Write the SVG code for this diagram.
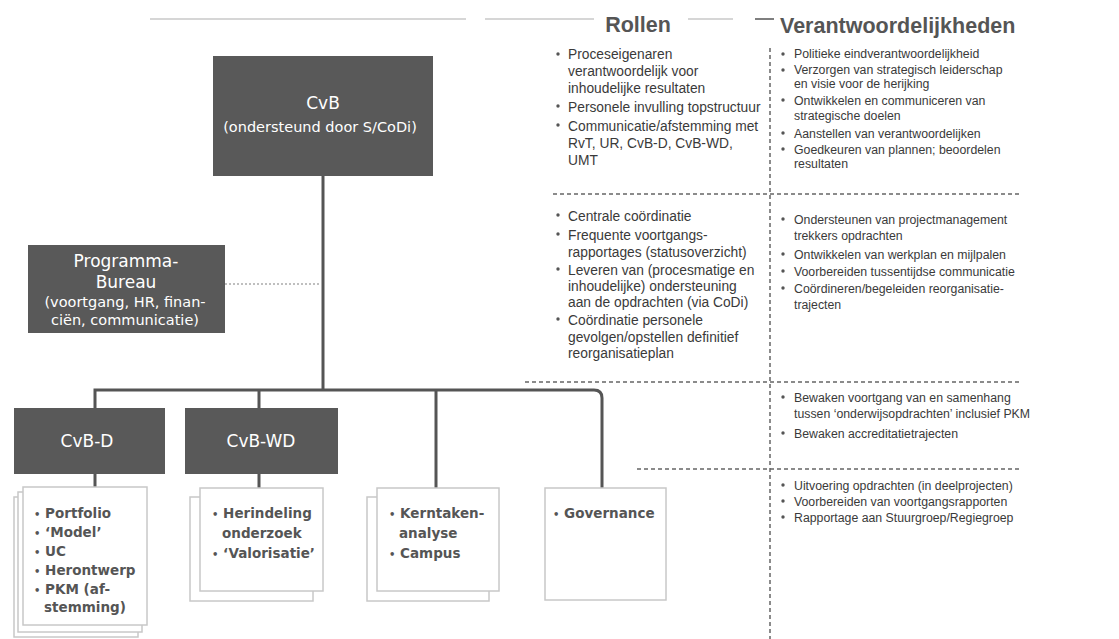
<svg xmlns="http://www.w3.org/2000/svg" width="1119" height="639" viewBox="0 0 1119 639">
<style>
.box{fill:#595959}
.wt{fill:#fff;font-family:"DejaVu Sans",Verdana,sans-serif;text-anchor:middle}
.sub{fill:#fff;stroke:#c8c8c8;stroke-width:1.5}
.st{fill:#555;font-family:"DejaVu Sans",Verdana,sans-serif;font-weight:bold;font-size:13.5px}
.b{font-size:10px}
.rt{fill:#3a3a3a;font-family:"Liberation Sans",Arial,sans-serif;font-size:13.8px}
.vt{fill:#3a3a3a;font-family:"Liberation Sans",Arial,sans-serif;font-size:12.3px}
.hd{fill:#555;font-family:"Liberation Sans",Arial,sans-serif;font-weight:bold;font-size:21.5px}
.conn{fill:none;stroke:#555;stroke-width:3}
.sep{fill:none;stroke:#666;stroke-width:1.5;stroke-dasharray:4 3}
.hl{stroke:#c8c8c8;stroke-width:1.5}
.bul{fill:#555}
</style>
<rect width="1119" height="639" fill="#fff"/>

<g id="headers">
<line class="hl" x1="150" y1="19" x2="466" y2="19"/>
<line class="hl" x1="485" y1="19" x2="594" y2="19"/>
<text class="hd" x="638" y="32" text-anchor="middle">Rollen</text>
<line class="hl" x1="688" y1="19" x2="733" y2="19"/>
<line x1="755" y1="19" x2="774" y2="19" stroke="#555" stroke-width="1.5"/>
<text class="hd" x="780" y="33">Verantwoordelijkheden</text>
</g>

<g id="separators">
<line class="sep" x1="770" y1="48" x2="770" y2="639" stroke-dasharray="3 4"/>
<line class="sep" x1="553" y1="194" x2="1020" y2="194"/>
<line class="sep" x1="525" y1="382" x2="1020" y2="382"/>
<line class="sep" x1="637" y1="469" x2="1020" y2="469" stroke="#999"/>
</g>

<g id="connectors">
<path class="conn" d="M323,176 V390"/>
<path class="conn" d="M95,408 V390 H594 Q602,390 602,398 V488"/>
<path class="conn" d="M259,408 V390"/>
<path class="conn" d="M436,390 V488"/>
<path class="conn" d="M95,474 V488"/>
<path class="conn" d="M259,474 V488"/>
<line x1="225" y1="284" x2="321" y2="284" stroke="#aaa" stroke-width="1.5" stroke-dasharray="2 2"/>
</g>

<g id="cvb">
<rect class="box" x="213" y="56" width="220" height="120"/>
<text class="wt" x="323" y="109" font-size="17">CvB</text>
<text class="wt" x="320" y="132" font-size="14.5">(ondersteund door S/CoDi)</text>
</g>

<g id="programmabureau">
<rect class="box" x="28" y="245" width="197" height="88"/>
<text class="wt" x="126" y="267" font-size="17">Programma-</text>
<text class="wt" x="126" y="288" font-size="17">Bureau</text>
<text class="wt" x="125" y="307" font-size="14.5">(voortgang, HR, finan-</text>
<text class="wt" x="125" y="325" font-size="14.5">ciën, communicatie)</text>
</g>

<g id="cvbd">
<rect class="box" x="14" y="408" width="151" height="66"/>
<text class="wt" x="87" y="447" font-size="17">CvB-D</text>
</g>

<g id="cvbwd">
<rect class="box" x="185" y="408" width="153" height="66"/>
<text class="wt" x="261" y="447" font-size="17">CvB-WD</text>
</g>

<g id="cvbd-tasks">
<rect class="sub" x="14" y="497" width="124" height="140"/>
<rect class="sub" x="18" y="492" width="124" height="140"/>
<rect class="sub" x="23" y="487" width="124" height="138"/>
<text class="st"><tspan x="34" y="518"><tspan class="b">•</tspan> Portfolio</tspan><tspan x="34" y="537"><tspan class="b">•</tspan> ‘Model’</tspan><tspan x="34" y="556"><tspan class="b">•</tspan> UC</tspan><tspan x="34" y="575"><tspan class="b">•</tspan> Herontwerp</tspan><tspan x="34" y="594"><tspan class="b">•</tspan> PKM (af-</tspan><tspan x="44" y="612">stemming)</tspan></text>
</g>

<g id="cvbwd-tasks">
<rect class="sub" x="190" y="497" width="123" height="104"/>
<rect class="sub" x="200" y="488" width="123" height="103"/>
<text class="st"><tspan x="212" y="518"><tspan class="b">•</tspan> Herindeling</tspan><tspan x="222" y="538">onderzoek</tspan><tspan x="212" y="558"><tspan class="b">•</tspan> ‘Valorisatie’</tspan></text>
</g>

<g id="campus-tasks">
<rect class="sub" x="367" y="497" width="122" height="104"/>
<rect class="sub" x="377" y="488" width="122" height="103"/>
<text class="st"><tspan x="389" y="518"><tspan class="b">•</tspan> Kerntaken-</tspan><tspan x="399" y="538">analyse</tspan><tspan x="389" y="558"><tspan class="b">•</tspan> Campus</tspan></text>
</g>

<g id="governance">
<rect class="sub" x="545" y="488" width="121" height="112"/>
<text class="st"><tspan x="553" y="518"><tspan class="b">•</tspan> Governance</tspan></text>
</g>

<g id="rollen">
<g class="bul">
<circle cx="558" cy="54" r="1.7"/><circle cx="558" cy="106" r="1.7"/><circle cx="558" cy="125" r="1.7"/>
<circle cx="558" cy="215" r="1.7"/><circle cx="558" cy="234" r="1.7"/><circle cx="558" cy="269" r="1.7"/><circle cx="558" cy="319" r="1.7"/>
</g>
<text class="rt">
<tspan x="568" y="59">Proceseigenaren</tspan>
<tspan x="568" y="76">verantwoordelijk voor</tspan>
<tspan x="568" y="93">inhoudelijke resultaten</tspan>
<tspan x="568" y="112">Personele invulling topstructuur</tspan>
<tspan x="568" y="131">Communicatie/afstemming met</tspan>
<tspan x="568" y="148">RvT, UR, CvB-D, CvB-WD,</tspan>
<tspan x="568" y="165">UMT</tspan>
<tspan x="568" y="221">Centrale coördinatie</tspan>
<tspan x="568" y="240">Frequente voortgangs-</tspan>
<tspan x="568" y="257">rapportages (statusoverzicht)</tspan>
<tspan x="568" y="275">Leveren van (procesmatige en</tspan>
<tspan x="568" y="291">inhoudelijke) ondersteuning</tspan>
<tspan x="568" y="307">aan de opdrachten (via CoDi)</tspan>
<tspan x="568" y="325">Coördinatie personele</tspan>
<tspan x="568" y="342">gevolgen/opstellen definitief</tspan>
<tspan x="568" y="358">reorganisatieplan</tspan>
</text>
</g>

<g id="verantwoordelijkheden">
<g class="bul">
<circle cx="783" cy="54" r="1.7"/><circle cx="783" cy="70" r="1.7"/><circle cx="783" cy="100" r="1.7"/><circle cx="783" cy="133" r="1.7"/><circle cx="783" cy="149" r="1.7"/>
<circle cx="783" cy="219" r="1.7"/><circle cx="783" cy="254" r="1.7"/><circle cx="783" cy="271" r="1.7"/><circle cx="783" cy="288" r="1.7"/>
<circle cx="783" cy="397" r="1.7"/><circle cx="783" cy="433" r="1.7"/>
<circle cx="783" cy="485" r="1.7"/><circle cx="783" cy="501" r="1.7"/><circle cx="783" cy="517" r="1.7"/>
</g>
<text class="vt">
<tspan x="794" y="58">Politieke eindverantwoordelijkheid</tspan>
<tspan x="794" y="74">Verzorgen van strategisch leiderschap</tspan>
<tspan x="794" y="88">en visie voor de herijking</tspan>
<tspan x="794" y="105">Ontwikkelen en communiceren van</tspan>
<tspan x="794" y="120">strategische doelen</tspan>
<tspan x="794" y="138">Aanstellen van verantwoordelijken</tspan>
<tspan x="794" y="154">Goedkeuren van plannen; beoordelen</tspan>
<tspan x="794" y="168">resultaten</tspan>
<tspan x="794" y="224">Ondersteunen van projectmanagement</tspan>
<tspan x="794" y="240">trekkers opdrachten</tspan>
<tspan x="794" y="259">Ontwikkelen van werkplan en mijlpalen</tspan>
<tspan x="794" y="276">Voorbereiden tussentijdse communicatie</tspan>
<tspan x="794" y="293">Coördineren/begeleiden reorganisatie-</tspan>
<tspan x="794" y="309">trajecten</tspan>
<tspan x="794" y="402">Bewaken voortgang van en samenhang</tspan>
<tspan x="794" y="418">tussen ‘onderwijsopdrachten’ inclusief PKM</tspan>
<tspan x="794" y="438">Bewaken accreditatietrajecten</tspan>
<tspan x="794" y="490">Uitvoering opdrachten (in deelprojecten)</tspan>
<tspan x="794" y="506">Voorbereiden van voortgangsrapporten</tspan>
<tspan x="794" y="522">Rapportage aan Stuurgroep/Regiegroep</tspan>
</text>
</g>
</svg>
